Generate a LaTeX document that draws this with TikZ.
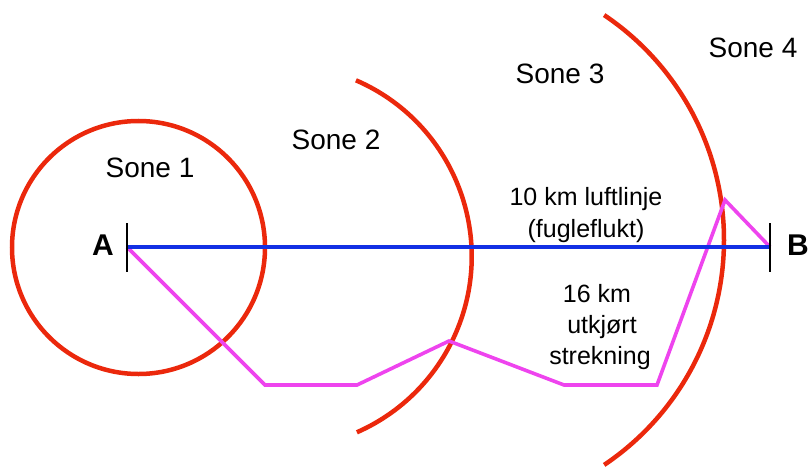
\documentclass[tikz,border=0pt]{standalone}
\usepackage{fontspec}
\setmainfont{Liberation Sans}
\definecolor{zonered}{RGB}{235,40,12}
\definecolor{routemag}{RGB}{238,68,238}
\definecolor{airblue}{RGB}{18,48,228}
\begin{document}
\begin{tikzpicture}[x=1pt,y=-1pt,
  zone/.style={draw=zonered,line width=4.5pt},
  lbl/.style={font=\fontsize{25}{30}\selectfont,inner sep=0pt,anchor=center},
  zlbl/.style={font=\fontsize{28}{32}\selectfont,inner sep=0pt,anchor=center},
  endlbl/.style={font=\fontsize{30}{34}\selectfont\bfseries,inner sep=0pt,anchor=center},
  tick/.style={draw=black,line width=2.2pt},
  air/.style={draw=airblue,line width=4.5pt},
  route/.style={draw=routemag,line width=3.6pt,line join=miter}]
\useasboundingbox (0,0) rectangle (810,468);
% zones
\coordinate (c1) at (138.5,247.5);
\coordinate (c2) at (279.7,256.5);
\coordinate (c4) at (453,240);
\draw[zone] (c1) circle[radius=126.5];
\draw[zone] (c2) ++(-66.6:192) arc[start angle=-66.6,end angle=66.3,radius=192];
\draw[zone] (c4) ++(-56.1:271) arc[start angle=-56.1,end angle=56.1,radius=271];
% end points
\coordinate (A) at (127,247);
\coordinate (B) at (770,247);
\coordinate (Atop) at (127,223);
\coordinate (Abot) at (127,272);
\coordinate (Btop) at (770,223);
\coordinate (Bbot) at (770,272);
% route
\coordinate (r1) at (265,385);
\coordinate (r2) at (357,385);
\coordinate (r3) at (449,341);
\coordinate (r4) at (564,385);
\coordinate (r5) at (657,385);
\coordinate (r6) at (725,200);
\draw[route] (A) -- (r1) -- (r2) -- (r3) -- (r4) -- (r5) -- (r6) -- (B);
\draw[air] (A) -- (B);
\draw[tick] (Atop) -- (Abot);
\draw[tick] (Btop) -- (Bbot);
% labels
\node[endlbl] (la) at (103,245) {A};
\node[endlbl] (lb) at (798,245) {B};
\node[zlbl] (s1) at (150,168) {Sone 1};
\node[zlbl] (s2) at (336,140) {Sone 2};
\node[zlbl] (s3) at (560,74) {Sone 3};
\node[zlbl] (s4) at (753,48) {Sone 4};
\node[lbl] (t1) at (586,199) {10 km luftlinje};
\node[lbl] (t2) at (586,231) {(fugleflukt)};
\node[lbl] (t3) at (597,294) {16 km};
\node[lbl] (t4) at (602,327) {utkjørt};
\node[lbl] (t5) at (600,358) {strekning};
\end{tikzpicture}
\end{document}
